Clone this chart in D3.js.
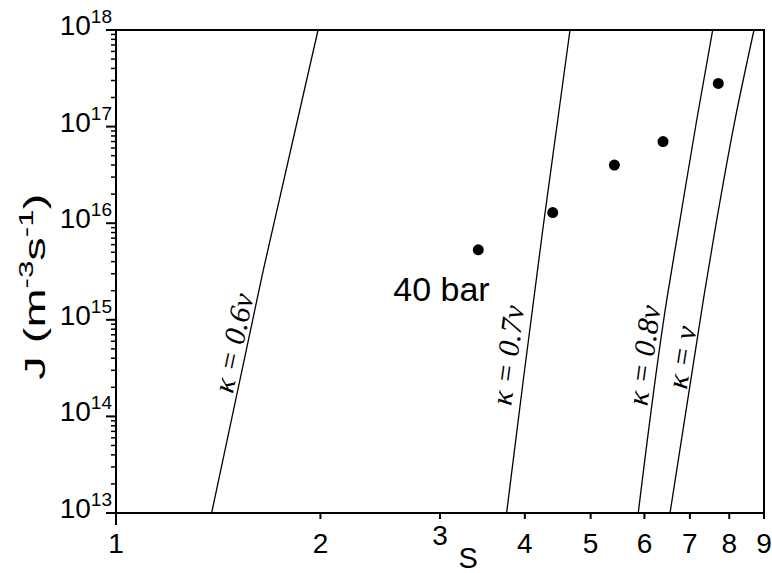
<!DOCTYPE html>
<html>
<head>
<meta charset="utf-8">
<script src="https://cdn.jsdelivr.net/npm/d3@7"></script>
<style>
  body { margin: 0; background: #fff; }
  svg { display: block; }
  .tick-label { font-family: "Liberation Sans", Arial, sans-serif; fill: #000; }
  .kappa { font-family: "Liberation Serif", "Times New Roman", serif; font-style: italic; fill: #000; }
</style>
</head>
<body>
<svg id="chart" width="772" height="573"></svg>
<script>
// x ticks (S) and y decades (J)
var xTicks = [1, 2, 3, 4, 5, 6, 7, 8, 9];
var yDecades = [13, 14, 15, 16, 17, 18];

// measured points, 40 bar
var pointS = [3.416, 4.397, 5.419, 6.391, 7.708];
var pointJ = [5.3e15, 1.29e16, 4.0e16, 7.0e16, 2.8e17];

// theory curves
var curveNames = ["κ = 0.6ν", "κ = 0.7ν", "κ = 0.8ν", "κ = ν"];
var curveS = [
  [1.383, 1.646, 1.984],
  [3.760, 3.979, 4.250, 4.472, 4.662],
  [5.876, 6.471, 6.731, 7.164, 7.563],
  [6.544, 7.326, 7.622, 8.156, 8.700]
];
var curveJ = [
  [1e13, 3.16e15, 1e18],
  [1e13, 2.38e14, 8.5e15, 1.17e17, 1e18],
  [1e13, 1.6e15, 8.5e15, 1.17e17, 1e18],
  [1e13, 1.6e15, 8.5e15, 1.17e17, 1e18]
];
// where each curve label sits (data coords)
var labelS = [1.487, 3.77, 5.98, 6.80];
var labelJ = [5.75e14, 4.3e14, 4.3e14, 4.1e14];

var pressureLabel = "40 bar";
var pressureS = 2.56, pressureJ = 1.55e15;

var margin = {top: 30, right: 8, bottom: 60, left: 116},
  width = 772 - margin.left - margin.right,
  height = 573 - margin.top - margin.bottom;

var svg = d3.select('#chart');
var g = svg.append('g').attr('transform', 'translate(' + margin.left + ',' + margin.top + ')');

var x = d3.scaleLog().domain([1, 9]).range([0, width]);
var y = d3.scaleLog().domain([1e13, 1e18]).range([height, 0]);

// frame
g.append('rect')
  .attr('width', width).attr('height', height)
  .attr('fill', 'none').attr('stroke', '#000').attr('stroke-width', 2);

// y ticks: majors + minors, outward
var yMinor = [];
yDecades.forEach(function(e) {
  if (e < 18) for (var m = 2; m <= 9; m++) yMinor.push(m * Math.pow(10, e));
});
g.selectAll('.ymin').data(yMinor).enter().append('line')
  .attr('x1', -5).attr('x2', 0)
  .attr('y1', function(d) { return y(d); }).attr('y2', function(d) { return y(d); })
  .attr('stroke', '#000').attr('stroke-width', 1.5);
g.selectAll('.ymaj').data(yDecades).enter().append('line')
  .attr('x1', -10).attr('x2', 0)
  .attr('y1', function(e) { return y(Math.pow(10, e)); }).attr('y2', function(e) { return y(Math.pow(10, e)); })
  .attr('stroke', '#000').attr('stroke-width', 2);

var yl = g.selectAll('.ylab').data(yDecades).enter().append('text')
  .attr('class', 'tick-label')
  .attr('x', -4)
  .attr('y', function(e) { return y(Math.pow(10, e)) + 5; })
  .attr('text-anchor', 'end')
  .style('font-size', '28px');
yl.append('tspan').text('10');
yl.append('tspan').attr('dy', -12).style('font-size', '19px').text(function(e) { return e; });

// x ticks
g.selectAll('.xt').data(xTicks).enter().append('line')
  .attr('x1', function(d) { return x(d); }).attr('x2', function(d) { return x(d); })
  .attr('y1', height).attr('y2', function(d) { return d === 1 ? height + 12 : height + 6; })
  .attr('stroke', '#000').attr('stroke-width', 2);
g.selectAll('.xl').data(xTicks).enter().append('text')
  .attr('class', 'tick-label')
  .attr('x', function(d) { return x(d); })
  .attr('y', function(d) { return d === 3 ? height + 32 : height + 40; })
  .attr('text-anchor', 'middle')
  .style('font-size', '28px')
  .text(function(d) { return d; });

// axis titles
g.append('text').attr('class', 'tick-label')
  .attr('x', x(3.3)).attr('y', height + 55)
  .attr('text-anchor', 'middle').style('font-size', '29px').text('S');

var yt = svg.append('text').attr('class', 'tick-label')
  .attr('transform', 'translate(45,' + (margin.top + y(2.2e15)) + ') rotate(-90)')
  .attr('text-anchor', 'middle').style('font-size', '30px')
  .attr('textLength', 186).attr('lengthAdjust', 'spacingAndGlyphs');
yt.append('tspan').text('J (m');
yt.append('tspan').attr('dy', -12).style('font-size', '20px').text('-3');
yt.append('tspan').attr('dy', 12).text('s');
yt.append('tspan').attr('dy', -12).style('font-size', '20px').text('-1');
yt.append('tspan').attr('dy', 12).text(')');

// curves
var line = d3.line()
  .x(function(d) { return x(d[0]); })
  .y(function(d) { return y(d[1]); })
  .curve(d3.curveMonotoneY);

var plot = g.append('g');
curveS.forEach(function(sv, i) {
  var pts = sv.map(function(s, k) { return [s, curveJ[i][k]]; });
  plot.append('path').datum(pts)
    .attr('d', line)
    .attr('fill', 'none').attr('stroke', '#000').attr('stroke-width', 1.3);

  // angle of the curve at the label
  var a = pts[0], b = pts[pts.length - 1];
  for (var k = 0; k < pts.length - 1; k++) {
    if (pts[k][1] <= labelJ[i] && pts[k + 1][1] >= labelJ[i]) { a = pts[k]; b = pts[k + 1]; }
  }
  var ang = Math.atan2(y(b[1]) - y(a[1]), x(b[0]) - x(a[0])) * 180 / Math.PI;
  plot.append('text').attr('class', 'kappa')
    .attr('transform', 'translate(' + x(labelS[i]) + ',' + y(labelJ[i]) + ') rotate(' + ang + ')')
    .attr('text-anchor', 'middle').attr('dy', '0.35em')
    .style('font-size', '30px')
    .text(curveNames[i]);
});

// points
plot.selectAll('circle').data(pointS).enter().append('circle')
  .attr('cx', function(d) { return x(d); })
  .attr('cy', function(d, i) { return y(pointJ[i]); })
  .attr('r', 5.5).attr('fill', '#000');

plot.append('text').attr('class', 'tick-label')
  .attr('x', x(pressureS)).attr('y', y(pressureJ))
  .style('font-size', '34px').text(pressureLabel);
</script>
</body>
</html>
